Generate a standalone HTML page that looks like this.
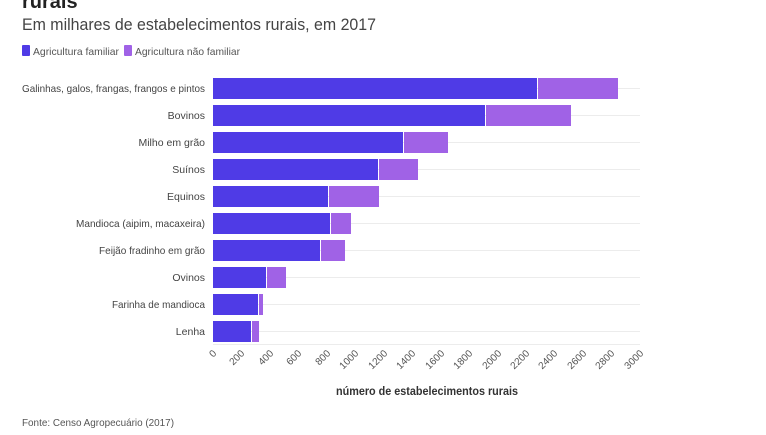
<!DOCTYPE html>
<html><head><meta charset="utf-8"><style>
body{margin:0;width:766px;height:430px;background:#fff;overflow:hidden;font-family:"Liberation Sans",sans-serif}
</style></head><body>
<svg width="766" height="430" xmlns="http://www.w3.org/2000/svg" font-family="Liberation Sans, sans-serif">
<text x="22" y="8" font-size="20" font-weight="bold" fill="#222">rurais</text>
<text x="22" y="30" font-size="17" fill="#444" textLength="354" lengthAdjust="spacingAndGlyphs">Em milhares de estabelecimentos rurais, em 2017</text>
<rect x="22" y="45" width="8" height="11" rx="1" fill="#4f3be6"/>
<text x="33" y="55" font-size="10.5" fill="#555" textLength="86" lengthAdjust="spacingAndGlyphs">Agricultura familiar</text>
<rect x="124" y="45" width="8" height="11" rx="1" fill="#a062e6"/>
<text x="135" y="55" font-size="10.5" fill="#555" textLength="105" lengthAdjust="spacingAndGlyphs">Agricultura não familiar</text>
<g stroke="#ececec" stroke-width="1">
<line x1="213" x2="640" y1="88.5" y2="88.5"/><line x1="213" x2="640" y1="115.5" y2="115.5"/><line x1="213" x2="640" y1="142.5" y2="142.5"/><line x1="213" x2="640" y1="169.5" y2="169.5"/><line x1="213" x2="640" y1="196.5" y2="196.5"/><line x1="213" x2="640" y1="223.5" y2="223.5"/><line x1="213" x2="640" y1="250.5" y2="250.5"/><line x1="213" x2="640" y1="277.5" y2="277.5"/><line x1="213" x2="640" y1="304.5" y2="304.5"/><line x1="213" x2="640" y1="331.5" y2="331.5"/><line x1="213" x2="640" y1="344.5" y2="344.5"/>
</g>
<g font-size="10.5" fill="#444" text-anchor="end">
<text x="205" y="92" textLength="183" lengthAdjust="spacingAndGlyphs">Galinhas, galos, frangas, frangos e pintos</text>
<text x="205" y="119">Bovinos</text>
<text x="205" y="146">Milho em grão</text>
<text x="205" y="173">Suínos</text>
<text x="205" y="200">Equinos</text>
<text x="205" y="227" textLength="129" lengthAdjust="spacingAndGlyphs">Mandioca (aipim, macaxeira)</text>
<text x="205" y="254" textLength="106" lengthAdjust="spacingAndGlyphs">Feijão fradinho em grão</text>
<text x="205" y="281">Ovinos</text>
<text x="205" y="308" textLength="93" lengthAdjust="spacingAndGlyphs">Farinha de mandioca</text>
<text x="205" y="335">Lenha</text>
</g>
<g>
<rect x="213" y="78" width="324" height="21" fill="#4f3be6"/><rect x="538" y="78" width="80" height="21" fill="#a062e6"/>
<rect x="213" y="105" width="272" height="21" fill="#4f3be6"/><rect x="486" y="105" width="85" height="21" fill="#a062e6"/>
<rect x="213" y="132" width="190" height="21" fill="#4f3be6"/><rect x="404" y="132" width="44" height="21" fill="#a062e6"/>
<rect x="213" y="159" width="165" height="21" fill="#4f3be6"/><rect x="379" y="159" width="39" height="21" fill="#a062e6"/>
<rect x="213" y="186" width="115" height="21" fill="#4f3be6"/><rect x="329" y="186" width="50" height="21" fill="#a062e6"/>
<rect x="213" y="213" width="117" height="21" fill="#4f3be6"/><rect x="331" y="213" width="20" height="21" fill="#a062e6"/>
<rect x="213" y="240" width="107" height="21" fill="#4f3be6"/><rect x="321" y="240" width="24" height="21" fill="#a062e6"/>
<rect x="213" y="267" width="53" height="21" fill="#4f3be6"/><rect x="267" y="267" width="19" height="21" fill="#a062e6"/>
<rect x="213" y="294" width="45" height="21" fill="#4f3be6"/><rect x="259" y="294" width="4" height="21" fill="#a062e6"/>
<rect x="213" y="321" width="38" height="21" fill="#4f3be6"/><rect x="252" y="321" width="7" height="21" fill="#a062e6"/>
</g>
<g font-size="10" fill="#555" text-anchor="end">
<text transform="translate(217,354) rotate(-45)">0</text>
<text transform="translate(245,354) rotate(-45)">200</text>
<text transform="translate(274,354) rotate(-45)">400</text>
<text transform="translate(302,354) rotate(-45)">600</text>
<text transform="translate(331,354) rotate(-45)">800</text>
<text transform="translate(359,354) rotate(-45)">1000</text>
<text transform="translate(388,354) rotate(-45)">1200</text>
<text transform="translate(416,354) rotate(-45)">1400</text>
<text transform="translate(445,354) rotate(-45)">1600</text>
<text transform="translate(473,354) rotate(-45)">1800</text>
<text transform="translate(502,354) rotate(-45)">2000</text>
<text transform="translate(530,354) rotate(-45)">2200</text>
<text transform="translate(558,354) rotate(-45)">2400</text>
<text transform="translate(587,354) rotate(-45)">2600</text>
<text transform="translate(615,354) rotate(-45)">2800</text>
<text transform="translate(644,354) rotate(-45)">3000</text>
</g>
<text x="336" y="395" font-size="11.5" font-weight="bold" fill="#333" textLength="182" lengthAdjust="spacingAndGlyphs">número de estabelecimentos rurais</text>
<text x="22" y="426" font-size="10.5" fill="#555" textLength="152" lengthAdjust="spacingAndGlyphs">Fonte: Censo Agropecuário (2017)</text>
</svg>
</body></html>
